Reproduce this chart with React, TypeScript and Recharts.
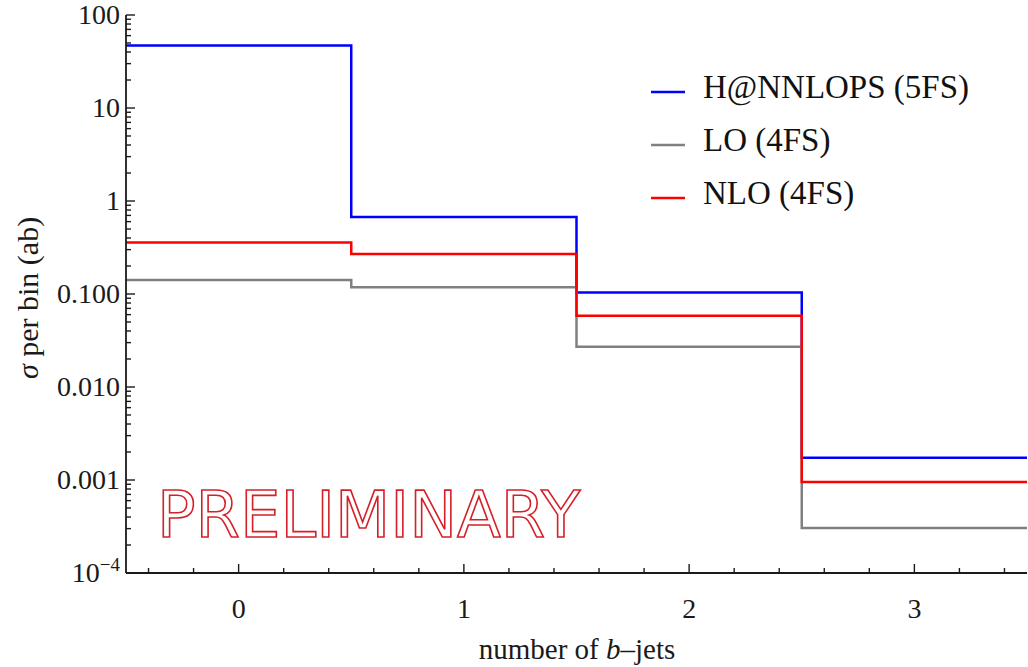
import React from 'react';
import { ComposedChart, Line, XAxis, YAxis, Legend } from 'recharts';

// bin edges of the b-jet multiplicity histogram (bins 0,1,2,3)
const binEdges = [-0.5, 0.5, 1.5, 2.5, 3.5];

// cross section per bin (ab)
const hnnlops5fs = [47.0, 0.673, 0.104, 0.00174];
const lo4fs = [0.1416, 0.118, 0.0271, 0.000305];
const nlo4fs = [0.358, 0.269, 0.0585, 0.00095];

const xMajorTicks = [0, 1, 2, 3];
const yDecades = [1e-4, 1e-3, 1e-2, 1e-1, 1, 10, 100];
const yTickLabels = ['10', '0.001', '0.010', '0.100', '1', '10', '100'];

const series = [
  { key: 'h', name: 'H@NNLOPS (5FS)', color: '#0000ff' },
  { key: 'lo', name: 'LO (4FS)', color: '#808080' },
  { key: 'nlo', name: 'NLO (4FS)', color: '#ff0000' },
];

// histogram as step points: each edge carries the value of the bin to its right
const data = binEdges.map((x, i) => {
  const b = Math.min(i, hnnlops5fs.length - 1);
  return { x, h: hnnlops5fs[b], lo: lo4fs[b], nlo: nlo4fs[b] };
});

const xTicks: number[] = [];
for (let i = -2; i <= 17; i++) xTicks.push(Math.round(i * 20) / 100);
const yTicks: number[] = [];
yDecades.forEach((d, i) => {
  yTicks.push(d);
  if (i < yDecades.length - 1) for (let k = 2; k <= 9; k++) yTicks.push(k * d);
});

const W = 1028;
const H = 667;
const PLOT = { left: 126, right: 1027, top: 15, bottom: 573 };
const FONT = '"Liberation Serif", "DejaVu Serif", serif';
const AX = '#1a1a1a';

const isInt = (v: number) => Math.abs(v - Math.round(v)) < 1e-6;
const isDecade = (v: number) => isInt(Math.log10(v));

const XTick = (side: 'bottom' | 'top') => (props: any) => {
  const v = props.payload.value;
  const x = props.payload.coordinate ?? props.x;
  const major = isInt(v);
  const len = major ? 9 : 5;
  const y0 = side === 'bottom' ? PLOT.bottom : PLOT.top;
  const y1 = side === 'bottom' ? y0 - len : y0 + len;
  return (
    <g>
      <line x1={x} x2={x} y1={y0} y2={y1} stroke={AX} strokeWidth={1.4} />
      {side === 'bottom' && major && xMajorTicks.includes(Math.round(v)) && (
        <text x={x} y={PLOT.bottom + 45} textAnchor="middle" fontFamily={FONT} fontSize={28} fill={AX}>
          {Math.round(v)}
        </text>
      )}
    </g>
  );
};

const YTick = (side: 'left' | 'right') => (props: any) => {
  const v = props.payload.value;
  const y = props.payload.coordinate ?? props.y;
  const major = isDecade(v);
  const len = major ? 9 : 5;
  const x0 = side === 'left' ? PLOT.left : PLOT.right;
  const x1 = side === 'left' ? x0 + len : x0 - len;
  const idx = yDecades.findIndex((d) => Math.abs(Math.log10(d) - Math.log10(v)) < 1e-6);
  return (
    <g>
      <line x1={x0} x2={x1} y1={y} y2={y} stroke={AX} strokeWidth={1.4} />
      {side === 'left' && idx >= 0 && (
        <text x={PLOT.left - 6} y={y + 9} textAnchor="end" fontFamily={FONT} fontSize={28} fill={AX}>
          {yTickLabels[idx]}
          {idx === 0 && (
            <tspan dy={-11} fontSize={19}>
              −4
            </tspan>
          )}
        </text>
      )}
    </g>
  );
};

const LegendBox = () => (
  <svg width={360} height={170}>
    {series.map((s, i) => (
      <g key={s.key}>
        <line x1={0} x2={34} y1={26 + 53 * i} y2={26 + 53 * i} stroke={s.color} strokeWidth={2.5} />
        <text x={52} y={32 + 53 * i} fontFamily={FONT} fontSize={33} fill="#111">
          {s.name}
        </text>
      </g>
    ))}
  </svg>
);

export default function App() {
  return (
    <div style={{ position: 'absolute', left: 0, top: 0, width: W, height: H, background: '#fff' }}>
      <ComposedChart width={W} height={H} data={data} margin={{ top: PLOT.top, right: W - PLOT.right, bottom: 0, left: 0 }}>
        <XAxis
          xAxisId="bottom"
          dataKey="x"
          type="number"
          domain={[-0.5, 3.5]}
          ticks={xTicks}
          interval={0}
          height={H - PLOT.bottom}
          axisLine={{ stroke: AX, strokeWidth: 1.8 }}
          tickLine={false}
          tick={XTick('bottom')}
          allowDataOverflow
        />
        <XAxis
          xAxisId="top"
          orientation="top"
          dataKey="x"
          type="number"
          domain={[-0.5, 3.5]}
          ticks={xTicks}
          interval={0}
          height={0}
          axisLine={{ stroke: AX, strokeWidth: 1.8 }}
          tickLine={false}
          tick={XTick('top')}
          allowDataOverflow
        />
        <YAxis
          yAxisId="left"
          type="number"
          scale="log"
          domain={[1e-4, 100]}
          ticks={yTicks}
          interval={0}
          width={PLOT.left}
          axisLine={{ stroke: AX, strokeWidth: 1.8 }}
          tickLine={false}
          tick={YTick('left')}
          allowDataOverflow
        />
        <YAxis
          yAxisId="right"
          orientation="right"
          type="number"
          scale="log"
          domain={[1e-4, 100]}
          ticks={yTicks}
          interval={0}
          width={0}
          axisLine={{ stroke: AX, strokeWidth: 1.8 }}
          tickLine={false}
          tick={YTick('right')}
          allowDataOverflow
        />
        <Legend
          layout="vertical"
          align="center"
          verticalAlign="middle"
          content={LegendBox}
          wrapperStyle={{ left: 651, top: 66, width: 360, height: 170 }}
        />
        {series.map((s) => (
          <Line
            key={s.key}
            xAxisId="bottom"
            yAxisId="left"
            dataKey={s.key}
            name={s.name}
            type="stepAfter"
            stroke={s.color}
            strokeWidth={2.5}
            dot={false}
            activeDot={false}
            isAnimationActive={false}
          />
        ))}
      </ComposedChart>
      <svg width={W} height={H} style={{ position: 'absolute', left: 0, top: 0, pointerEvents: 'none' }}>
        <text
          x={157}
          y={537}
          fontFamily='"DejaVu Sans", sans-serif'
          fontSize={64}
          fill="none"
          stroke="#d42028"
          strokeWidth={1.6}
        >
          PRELIMINARY
        </text>
        <text x={577} y={659} textAnchor="middle" fontFamily={FONT} fontSize={29} fill={AX}>
          number of <tspan fontStyle="italic">b</tspan>–jets
        </text>
        <text
          transform="translate(38,298) rotate(-90)"
          textAnchor="middle"
          fontFamily={FONT}
          fontSize={30}
          fill={AX}
        >
          <tspan fontStyle="italic">σ</tspan> per bin (ab)
        </text>
      </svg>
    </div>
  );
}
